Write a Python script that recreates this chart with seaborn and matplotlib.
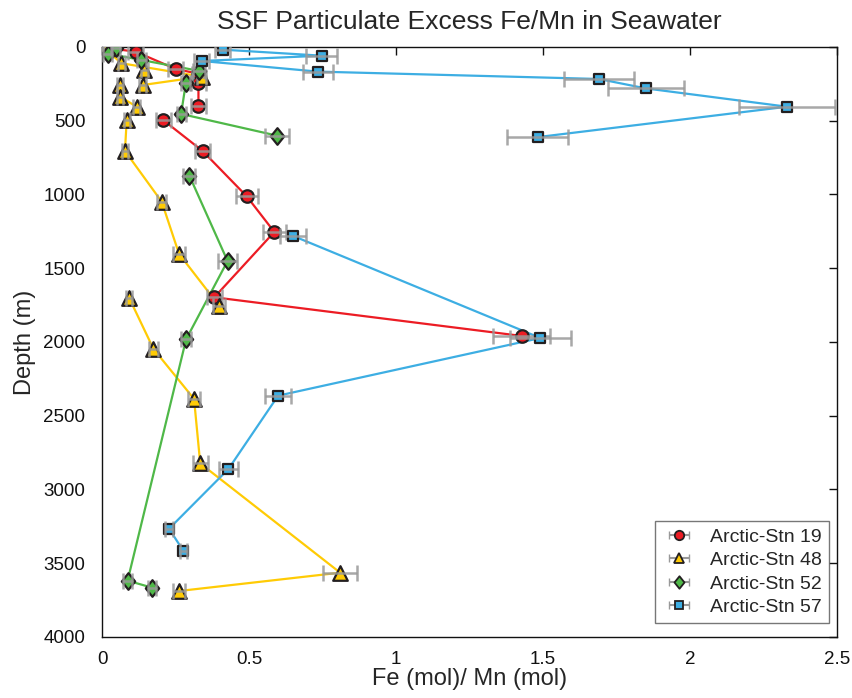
import numpy as np
import pandas as pd
import matplotlib
matplotlib.use("Agg")
import matplotlib.pyplot as plt
import seaborn as sns
from matplotlib.lines import Line2D
from matplotlib.path import Path
from matplotlib.collections import LineCollection
from matplotlib.container import ErrorbarContainer

# ---------------- data ----------------
stn19_depth = [10, 32, 149, 180, 246, 400, 497, 705, 1012, 1254, 1697, 1959]
stn19_ratio = [0.03, 0.115, 0.25, 0.325, 0.328, 0.328, 0.209, 0.342, 0.492, 0.586, 0.382, 1.427]
stn19_err = [0.01, 0.025, 0.025, 0.02, 0.026, 0.026, 0.026, 0.026, 0.037, 0.04, 0.026, 0.097]
stn19_seg = [1, 1, 1, 1, 1, 1, 2, 2, 2, 2, 2, 2]

stn48_depth = [9, 110, 201, 258, 156, 258, 337, 405, 495, 705, 1049, 1403, 1756,
               1700, 2047, 2386, 2823, 3564, 3688]
stn48_ratio = [0.01, 0.065, 0.339, 0.138, 0.144, 0.061, 0.061, 0.118, 0.084, 0.078, 0.203, 0.262, 0.399,
               0.092, 0.175, 0.313, 0.334, 0.81, 0.263]
stn48_err = [0.01, 0.012, 0.015, 0.012, 0.012, 0.01, 0.01, 0.012, 0.01, 0.01, 0.015, 0.019, 0.02,
             0.01, 0.015, 0.02, 0.025, 0.057, 0.02]
stn48_seg = [1, 1, 1, 1, 2, 3, 3, 3, 3, 3, 3, 3, 3, 4, 4, 4, 4, 4, 4]

stn52_depth = [10, 45, 88, 162, 246, 454, 601, 872, 1451, 1982, 3618, 3666]
stn52_ratio = [0.047, 0.019, 0.133, 0.33, 0.285, 0.269, 0.595, 0.297, 0.427, 0.286, 0.087, 0.171]
stn52_err = [0.015, 0.015, 0.015, 0.02, 0.015, 0.015, 0.042, 0.02, 0.033, 0.017, 0.014, 0.014]
stn52_seg = [1, 1, 1, 1, 1, 1, 1, 2, 2, 2, 2, 2]

stn57_depth = [18, 59, 95, 167, 217, 281, 405, 611, 1281, 1973, 2364, 2861, 3266, 3417]
stn57_ratio = [0.41, 0.747, 0.339, 0.734, 1.69, 1.85, 2.33, 1.482, 0.65, 1.491, 0.599, 0.43, 0.228, 0.277]
stn57_err = [0.025, 0.053, 0.025, 0.052, 0.118, 0.13, 0.164, 0.104, 0.045, 0.104, 0.043, 0.032, 0.013, 0.013]
stn57_seg = [1, 1, 1, 1, 1, 1, 1, 1, 2, 2, 2, 2, 2, 2]

labels = ["Arctic-Stn 19", "Arctic-Stn 48", "Arctic-Stn 52", "Arctic-Stn 57"]
x_ticks = [0, 0.5, 1, 1.5, 2, 2.5]
x_ticklabels = ["0", "0.5", "1", "1.5", "2", "2.5"]
y_ticks = [0, 500, 1000, 1500, 2000, 2500, 3000, 3500, 4000]

# ---------------- styling ----------------
sns.set_theme(style="white")
plt.rcParams["font.family"] = ["Liberation Sans", "DejaVu Sans"]

diamond = Path([(0, 1), (0.8, 0), (0, -1), (-0.8, 0), (0, 1)],
               [Path.MOVETO, Path.LINETO, Path.LINETO, Path.LINETO, Path.CLOSEPOLY])
colors = ["#EC1C24", "#FFCB05", "#4FB848", "#3DAEE3"]
markers = ["o", "^", diamond, "s"]
msizes = [9, 10.5, 12, 7.5]
edge = "#231F20"
ecol = "#999999"

fig = plt.figure(figsize=(8.53, 6.98), dpi=100)
ax = fig.add_axes([0.1196, 0.0874, 0.8617, 0.8453])

series = [
    (stn19_depth, stn19_ratio, stn19_err, stn19_seg),
    (stn48_depth, stn48_ratio, stn48_err, stn48_seg),
    (stn52_depth, stn52_ratio, stn52_err, stn52_seg),
    (stn57_depth, stn57_ratio, stn57_err, stn57_seg),
]

handles = []
for i, (d, r, e, s) in enumerate(series):
    df = pd.DataFrame({"depth": d, "ratio": r, "err": e, "seg": s})
    sns.lineplot(data=df, x="ratio", y="depth", units="seg", estimator=None,
                 sort=False, color=colors[i], lw=1.6, ax=ax, zorder=2 + i * 0.1,
                 legend=False)
    sns.scatterplot(data=df, x="ratio", y="depth", marker=markers[i],
                    s=msizes[i] ** 2, color=colors[i], edgecolor=edge,
                    linewidth=1.6, ax=ax, zorder=3 + i * 0.1, legend=False)
    ax.errorbar(df["ratio"], df["depth"], xerr=df["err"], fmt="none",
                ecolor=ecol, elinewidth=1.8, capsize=5.5, capthick=1.8,
                zorder=3.05 + i * 0.1, alpha=0.85)
    # legend proxy in errorbar style
    pl = Line2D([], [], marker=markers[i], color=colors[i], ls="none",
                markersize=msizes[i] * 0.75, markeredgecolor=edge, markeredgewidth=1.3)
    cap = Line2D([], [], color=ecol, lw=1.5)
    bar = LineCollection([], colors=ecol, linewidths=1.5)
    handles.append(ErrorbarContainer((pl, (cap,), (bar,)), has_xerr=True,
                                     has_yerr=False, label=labels[i]))

ax.set_xlim(0, 2.5)
ax.set_ylim(4000, 0)
ax.set_xticks(x_ticks)
ax.set_xticklabels(x_ticklabels)
ax.set_yticks(y_ticks)
ax.tick_params(direction="in", top=True, right=True, length=6, width=1,
               labelsize=13.5, colors="#111111")
ax.tick_params(axis="x", pad=10)
ax.tick_params(axis="y", pad=12)
for sp in ax.spines.values():
    sp.set_color("#111111")
    sp.set_linewidth(1.0)

ax.set_xlabel("Fe (mol)/ Mn (mol)", fontsize=17, labelpad=0)
ax.set_ylabel("Depth (m)", fontsize=17, labelpad=5)
ax.set_title("SSF Particulate Excess Fe/Mn in Seawater", fontsize=19, pad=13)

leg = ax.legend(handles=handles, loc="lower right", bbox_to_anchor=(0.9885, 0.024),
                fontsize=14, frameon=True, fancybox=False, edgecolor="#555555",
                handlelength=1.7, handletextpad=0.75, borderpad=0.35, labelspacing=0.3,
                borderaxespad=0.0)
leg.get_frame().set_linewidth(1.0)

fig.savefig("out.png", dpi=100)
